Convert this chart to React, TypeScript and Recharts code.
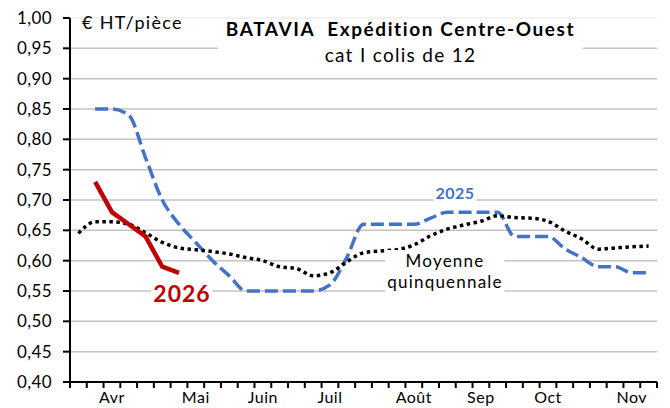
import React from 'react';
import { LineChart, Line, XAxis, YAxis, CartesianGrid, ReferenceLine } from 'recharts';

const FONT = 'Lato, "Open Sans", sans-serif';

// semaines 12 à 46
const weeks = [12, 13, 14, 15, 16, 17, 18, 19, 20, 21, 22, 23, 24, 25, 26, 27, 28, 29, 30, 31, 32, 33, 34, 35, 36, 37, 38, 39, 40, 41, 42, 43, 44, 45, 46];
const monthWeeks = [14, 19, 23, 27, 32, 36, 40, 45];
const monthNames = ['Avr', 'Mai', 'Juin', 'Juil', 'Août', 'Sep', 'Oct', 'Nov'];

const moyenne = [0.645, 0.664, 0.664, 0.66, 0.646, 0.63, 0.621, 0.618, 0.615, 0.611, 0.605, 0.6, 0.59, 0.587, 0.575, 0.58, 0.598, 0.613, 0.616, 0.618, 0.626, 0.641, 0.652, 0.659, 0.665, 0.674, 0.671, 0.67, 0.665, 0.649, 0.636, 0.619, 0.621, 0.623, 0.624];
const prix2025 = [null, 0.85, 0.85, 0.84, 0.77, 0.7, 0.66, 0.63, 0.6, 0.575, 0.55, 0.55, 0.55, 0.55, 0.55, 0.56, 0.605, 0.66, 0.66, 0.66, 0.66, 0.67, 0.68, 0.68, 0.68, 0.68, 0.64, 0.64, 0.64, 0.62, 0.605, 0.59, 0.59, 0.58, 0.58];
const prix2026 = [null, 0.73, 0.68, 0.66, 0.64, 0.59, 0.58, null, null, null, null, null, null, null, null, null, null, null, null, null, null, null, null, null, null, null, null, null, null, null, null, null, null, null, null];

const yTicks = [0.4, 0.45, 0.5, 0.55, 0.6, 0.65, 0.7, 0.75, 0.8, 0.85, 0.9, 0.95, 1.0];

const data = weeks.map((w, i) => ({
  semaine: w,
  moyenne: moyenne[i],
  p2025: prix2025[i],
  p2026: prix2026[i],
}));

// tick marks between weeks, labels on the first week of each month
const xTicks = [...weeks.map(w => w - 0.5), weeks[weeks.length - 1] + 0.5, ...monthWeeks].sort((a, b) => a - b);

const XTick = (props: any) => {
  const { x, y, payload } = props;
  const idx = monthWeeks.indexOf(payload.value);
  if (idx >= 0) {
    return (
      <text x={x} y={y + 21} textAnchor="middle" fontSize={16} letterSpacing={0.5} fontFamily={FONT} fill="#000">
        {monthNames[idx]}
      </text>
    );
  }
  return <line x1={x} x2={x} y1={y} y2={y + 6} stroke="#000" strokeWidth={2} />;
};

const label = (extra: React.CSSProperties): React.CSSProperties => ({
  position: 'absolute',
  whiteSpace: 'nowrap',
  fontFamily: FONT,
  background: '#fff',
  ...extra,
});

export default function App() {
  return (
    <div style={{ position: 'absolute', left: 0, top: 0, width: 670, height: 408, background: '#fff' }}>
      <LineChart width={670} height={408} data={data} margin={{ top: 18, right: 13, bottom: 0, left: 0 }}>
        <CartesianGrid vertical={false} stroke="#c3c3c3" strokeWidth={1.5} />
        <ReferenceLine y={1} stroke="#f2f2f2" strokeWidth={2} />
        <XAxis
          dataKey="semaine"
          type="number"
          domain={[11.5, 46.5]}
          allowDataOverflow
          ticks={xTicks}
          interval={0}
          height={26}
          tickSize={0}
          tickMargin={0}
          tickLine={false}
          tick={<XTick />}
          axisLine={{ stroke: '#000', strokeWidth: 2 }}
        />
        <YAxis
          type="number"
          domain={[0.4, 1]}
          allowDataOverflow
          ticks={yTicks}
          interval={0}
          width={70}
          tickSize={7}
          tickMargin={11}
          tickFormatter={(v: number) => v.toFixed(2).replace('.', ',')}
          tick={{ fontSize: 17, fill: '#000', fontFamily: FONT, letterSpacing: 0.4 }}
          tickLine={{ stroke: '#000', strokeWidth: 2 }}
          axisLine={{ stroke: '#000', strokeWidth: 2 }}
        />
        <Line
          type="monotone"
          dataKey="p2025"
          stroke="#4472C4"
          strokeWidth={3.5}
          strokeDasharray="13 5"
          dot={false}
          isAnimationActive={false}
        />
        <Line
          type="monotone"
          dataKey="moyenne"
          stroke="#000"
          strokeWidth={3.5}
          strokeDasharray="3.5 3.5"
          dot={false}
          isAnimationActive={false}
        />
        <Line
          type="linear"
          dataKey="p2026"
          stroke="#C00000"
          strokeWidth={4.5}
          strokeLinejoin="round"
          dot={false}
          isAnimationActive={false}
        />
      </LineChart>

      <div style={label({ left: 82, top: 13, fontSize: 18, lineHeight: '18px', letterSpacing: 1.3, background: 'transparent' })}>€ HT/pièce</div>
      <div style={{ position: 'absolute', left: 218, top: 19, width: 365, height: 50, background: '#fff', fontFamily: FONT, textAlign: 'center' }}>
        <div style={{ position: 'absolute', left: 0, right: 0, top: 0, fontSize: 19, lineHeight: '19px', fontWeight: 700, letterSpacing: 1.6 }}>
          BATAVIA&nbsp; Expédition Centre-Ouest
        </div>
        <div style={{ position: 'absolute', left: 0, right: 0, top: 26, fontSize: 19, lineHeight: '19px', letterSpacing: 1.3 }}>cat I colis de 12</div>
      </div>
      <div style={label({ left: 455, top: 185, transform: 'translateX(-50%)', fontSize: 16, lineHeight: '16px', fontWeight: 700, color: '#4472C4', letterSpacing: 0.5, padding: '0 2px' })}>2025</div>
      <div style={label({ left: 182, top: 282, transform: 'translateX(-50%)', fontSize: 23, lineHeight: '23px', fontWeight: 700, color: '#C00000', letterSpacing: 1, padding: '0 2px' })}>2026</div>
      <div style={label({ left: 445, top: 250, transform: 'translateX(-50%)', fontSize: 17, lineHeight: '21px', letterSpacing: 1.2, textAlign: 'center', color: '#000', padding: '0 2px' })}>
        Moyenne
        <br />
        quinquennale
      </div>
    </div>
  );
}
